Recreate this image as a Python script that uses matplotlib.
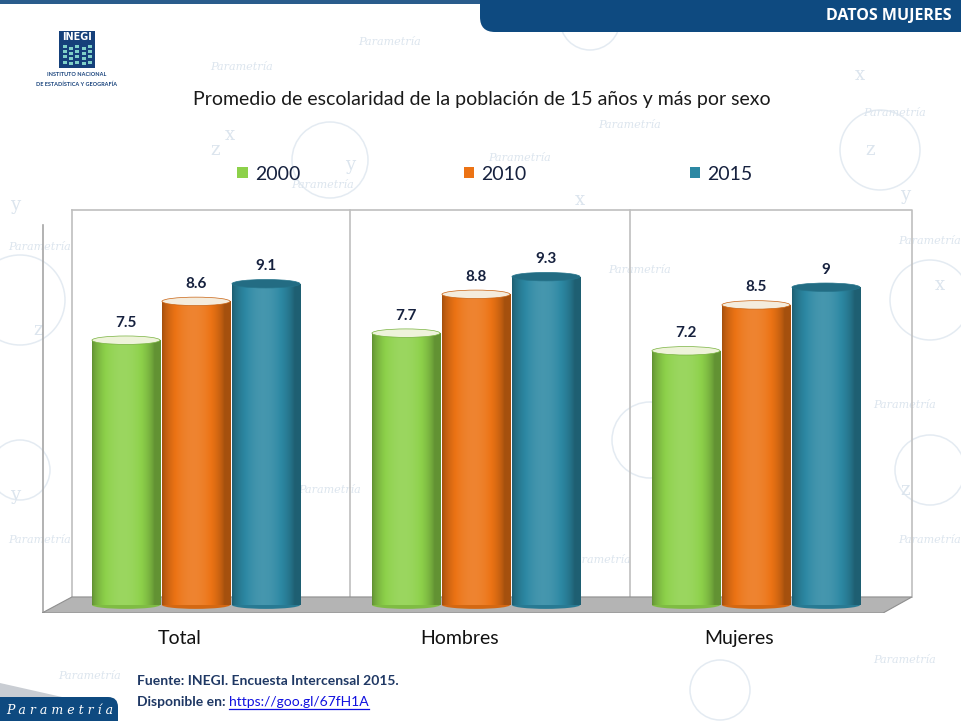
import numpy as np
import matplotlib
matplotlib.use("Agg")
import matplotlib.pyplot as plt
from matplotlib.patches import Rectangle, Ellipse, Polygon, FancyBboxPatch, Circle
from matplotlib.colors import to_rgb

plt.rcParams["font.family"] = ["Lato", "DejaVu Sans"]

# data
categories = ["Total", "Hombres", "Mujeres"]
years = ["2000", "2010", "2015"]
values_2000 = [7.5, 7.7, 7.2]
values_2010 = [8.6, 8.8, 8.5]
values_2015 = [9.1, 9.3, 9.0]
value_labels_2015 = ["9.1", "9.3", "9"]

series = [values_2000, values_2010, values_2015]
base_colors = ["#8DD14A", "#EC7314", "#2C88A3"]
top_colors = ["#EEF3DA", "#F4ECDD", "#236C83"]
NAVY = "#16213E"
W, H = 961, 721


def shade(color, f):
    c = np.array(to_rgb(color))
    if f <= 1:
        return c * f
    return c + (1 - c) * (f - 1)


def cylinder_image(color, n=60):
    t = np.linspace(0, 1, n)
    prof = 0.70 + 0.42 * np.sin(np.pi * np.clip(t * 1.1, 0, 1)) ** 0.7
    return np.array([[shade(color, f) for f in prof]])


fig = plt.figure(figsize=(W / 100, H / 100), dpi=100)

# background / decoration layer in pixel coordinates
bg = fig.add_axes([0, 0, 1, 1], zorder=0)
bg.set_xlim(0, W)
bg.set_ylim(H, 0)
bg.axis("off")

wm = "#DCE5EE"
for x, y in [(390, 42), (242, 67), (323, 185), (520, 158), (640, 270),
             (895, 113), (930, 241), (905, 405), (930, 540), (905, 660), (40, 247),
             (40, 540), (90, 676), (330, 490), (600, 560), (700, 600), (630, 125)]:
    bg.text(x, y, "Parametría", fontsize=8, style="italic", family="DejaVu Serif",
            color=wm, ha="center", va="center")
for x, y, r in [(330, 160, 38), (880, 150, 40), (20, 300, 45), (930, 300, 40),
                (650, 440, 38), (930, 470, 35), (20, 470, 30), (720, 690, 30), (590, 20, 30)]:
    bg.add_patch(Circle((x, y), r, fill=False, ec="#E4EBF2", lw=1.1))
for x, y, s in [(350, 165, "y"), (905, 195, "y"), (15, 205, "y"), (15, 495, "y"),
                (860, 75, "x"), (580, 200, "x"), (940, 285, "x"), (870, 150, "z"),
                (38, 330, "z"), (905, 490, "z"), (230, 135, "x"), (215, 150, "z")]:
    bg.text(x, y, s, fontsize=13, family="DejaVu Serif", color=wm, ha="center", va="center")

# header bar and tab
bg.add_patch(Rectangle((0, 0), W, 4, color="#2A5C8C", lw=0))
bg.add_patch(FancyBboxPatch((480, -40), 540, 72, boxstyle="round,pad=0,rounding_size=15",
                            fc="#0E4A80", ec="none"))
bg.text(952, 16, "DATOS MUJERES", color="white", fontsize=11.5, fontweight="bold",
        ha="right", va="center", family=["Open Sans", "DejaVu Sans"])

# INEGI logo
bg.add_patch(Rectangle((59, 31), 36, 37, fc="#15407A", ec="none"))
bg.text(77, 37, "INEGI", color="white", fontsize=7, fontweight="bold",
        ha="center", va="center", family="DejaVu Sans")
for i in range(5):
    for j in range(4):
        bg.add_patch(Rectangle((63 + i * 6.2, 45 + j * 5.2 + (i % 2) * 1.5), 4, 3,
                               fc="#7FD0C8", ec="none"))
bg.text(77, 75, "INSTITUTO NACIONAL", color="#15407A", fontsize=4, fontweight="bold",
        ha="center", va="center")
bg.text(77, 84, "DE ESTADÍSTICA Y GEOGRAFÍA", color="#15407A", fontsize=4,
        fontweight="bold", ha="center", va="center")

# bottom-left tab
bg.add_patch(Polygon([(0, 683), (62, 697), (0, 697)], fc="#C9CDD3", ec="none"))
bg.add_patch(FancyBboxPatch((-40, 697), 158, 60, boxstyle="round,pad=0,rounding_size=10",
                            fc="#0E4A80", ec="none"))
bg.text(60, 710, "P a r a m e t r í a", color="white", fontsize=9, style="italic",
        family="DejaVu Serif", ha="center", va="center")

# title
fig.text(482 / W, 1 - 100 / H, "Promedio de escolaridad de la población de 15 años y más por sexo",
         fontsize=14, color="#1A1A1A", ha="center", va="center")

# source notes
fig.text(137 / W, 1 - 681 / H, "Fuente: INEGI. Encuesta Intercensal 2015.",
         fontsize=10, fontweight="bold", color="#1F3864", ha="left", va="center")
t_disp = fig.text(137 / W, 1 - 702 / H, "Disponible en: ", fontsize=10, fontweight="bold",
                  color="#1F3864", ha="left", va="center")
fig.canvas.draw()
ext = t_disp.get_window_extent()
link = fig.text(ext.x1 / W, 1 - 702 / H, "https://goo.gl/67fH1A", fontsize=10,
                color="#1010E0", ha="left", va="center")
fig.canvas.draw()
le = link.get_window_extent()
bg.plot([le.x0, le.x1], [H - le.y0 + 1, H - le.y0 + 1], color="#1010E0", lw=0.9)

# main chart
ax = fig.add_axes([42 / W, 1 - 613 / H, 873 / W, 408 / H], zorder=2)
ax.patch.set_alpha(0)
for s in ax.spines.values():
    s.set_visible(False)

x0, x1 = -0.55, 2.568
y0, y1 = -0.227, 11.33
back_l, back_r, floor_b, floor_f, wall_top = -0.443, 2.557, 0.227, -0.227, 11.19

grid_c = "#BFBFBF"
ax.plot([back_l, back_r, back_r], [wall_top, wall_top, floor_b], color=grid_c, lw=1.2, zorder=1)
ax.plot([back_l, back_l], [floor_b, wall_top], color=grid_c, lw=1.2, zorder=1)
for d in [0.55, 1.55]:
    ax.plot([d, d], [floor_b, wall_top], color=grid_c, lw=1.2, zorder=1)
ax.plot([x0 + 0.003, x0 + 0.003], [floor_f, 10.76], color="#A6A6A6", lw=1.2, zorder=1)
ax.add_patch(Polygon([(back_l, floor_b), (back_r, floor_b), (2.454, floor_f), (x0, floor_f)],
                     fc="#B4B4B4", ec="#8F8F8F", lw=0.8, zorder=2))

group_x = np.arange(len(categories))
bw = 0.243
offsets = [-0.25, 0.0, 0.25]
for j, vals in enumerate(series):
    xs = group_x + offsets[j]
    bars = ax.bar(xs, vals, width=bw, color=base_colors[j], zorder=3, label=years[j])
    img = cylinder_image(base_colors[j])
    for k, b in enumerate(bars):
        bx, bh = b.get_x(), b.get_height()
        body = Rectangle((bx, 0), bw, bh, transform=ax.transData)
        im = ax.imshow(img, extent=[bx, bx + bw, 0, bh], aspect="auto", zorder=3.5,
                       interpolation="bilinear")
        im.set_clip_path(body)
        ax.add_patch(Ellipse((bx + bw / 2, 0), bw, 0.22, fc=shade(base_colors[j], 0.9),
                             ec="none", zorder=3.2))
        ax.add_patch(Ellipse((bx + bw / 2, bh), bw, 0.24, fc=top_colors[j],
                             ec=shade(base_colors[j], 0.85), lw=0.5, zorder=4))
        lab = value_labels_2015[k] if j == 2 else f"{vals[k]:.1f}"
        ax.text(bx + bw / 2, bh + 0.3, lab, ha="center", va="bottom", fontsize=11,
                fontweight="bold", color=NAVY, zorder=5)

ax.set_xlim(x0, x1)
ax.set_ylim(y0, y1)
ax.set_yticks([])
ax.set_xticks(group_x - 0.06)
ax.set_xticklabels(categories, fontsize=14, color="#111111")
ax.tick_params(axis="x", length=0, pad=12)

handles, labels = ax.get_legend_handles_labels()
leg = fig.legend(handles, labels, loc="center", bbox_to_anchor=(495 / W, 1 - 174 / H), ncol=3,
                 frameon=False, fontsize=14, handlelength=0.55, handleheight=0.55,
                 handletextpad=0.35, columnspacing=8.4, labelcolor=NAVY)

fig.savefig("out.png", dpi=100)
